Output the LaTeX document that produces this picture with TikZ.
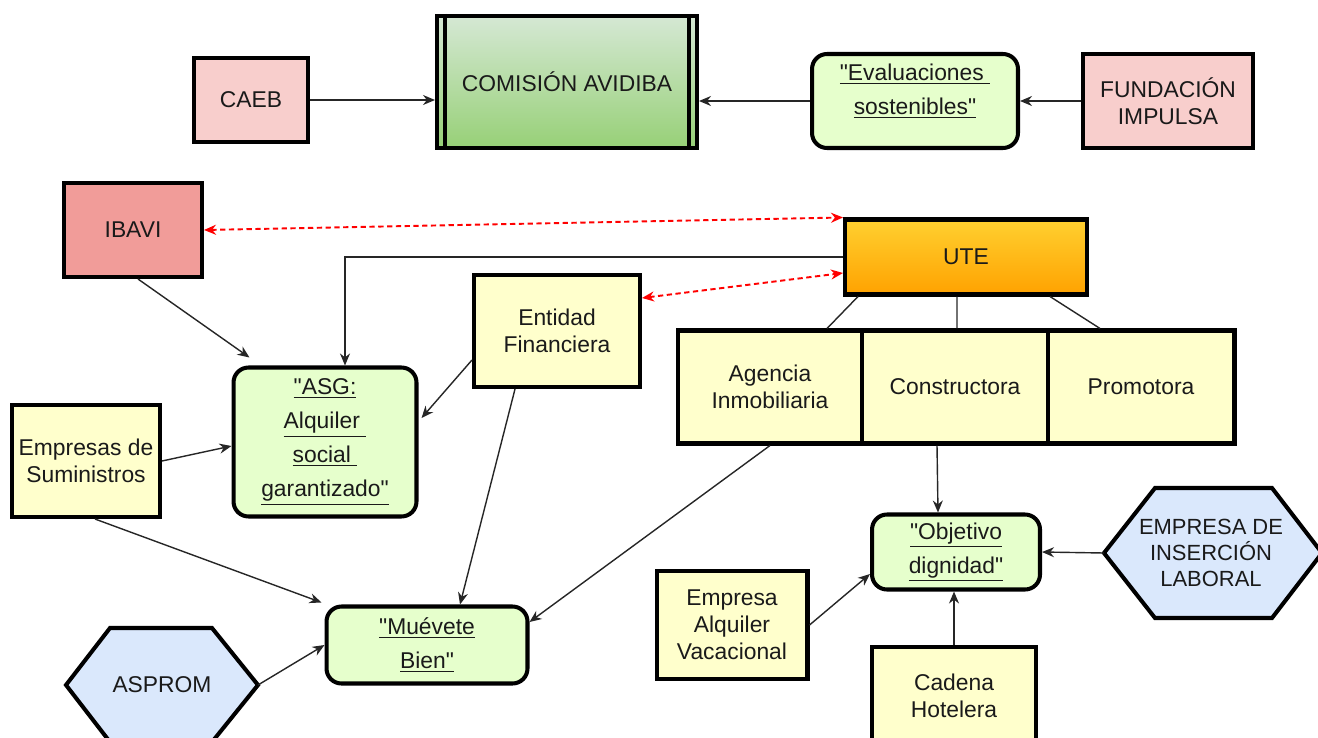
\documentclass[tikz,border=0pt]{standalone}
\usepackage{fontspec}
\setmainfont{Liberation Sans}[Ligatures=TeXOff]
\usetikzlibrary{arrows.meta}
\newcommand{\qq}{"}
\definecolor{pinkl}{HTML}{F8CECC}
\definecolor{pinkd}{HTML}{F19C99}
\definecolor{greenl}{HTML}{E6FFCC}
\definecolor{greent}{HTML}{D5E8D4}
\definecolor{greenb}{HTML}{97D077}
\definecolor{yell}{HTML}{FFFFCC}
\definecolor{oranget}{HTML}{FFD030}
\definecolor{orangeb}{HTML}{FFA200}
\definecolor{bluel}{HTML}{DAE8FC}
\definecolor{txt}{HTML}{1A1A1A}
\begin{document}
\begin{tikzpicture}[x=0.02cm,y=-0.02cm,
  font=\fontsize{13}{15.3}\selectfont,
  box/.style={draw=black, line width=2.3pt, text=txt, align=center, inner sep=2pt},
  sq/.style={box, rectangle},
  rbox/.style={box, rounded corners=0.3cm, fill=greenl, font=\fontsize{13}{19.3}\selectfont},
  hexa/.style={draw=black, line width=2.3pt, fill=bluel, line join=miter},
  txtn/.style={text=txt, align=center, inner sep=0pt},
  arr/.style={-{Stealth[length=2.4mm,width=2mm]}, line width=0.8pt, draw=black!85},
  ln/.style={line width=0.8pt, draw=black!85},
  rd/.style={{Stealth[length=2.4mm,width=2mm]}-{Stealth[length=2.4mm,width=2mm]}, draw=red, line width=1.1pt, dash pattern=on 3pt off 2pt}
]
\useasboundingbox (0,0) rectangle (1318,737);

% top row
\node[sq, fill=pinkl, minimum width=2.28cm, minimum height=1.68cm] (caeb) at (251,100) {CAEB};
\node[sq, top color=greent, bottom color=greenb, minimum width=5.2cm, minimum height=2.64cm] (com) at (567,82) {COMISIÓN AVIDIBA};
\draw[line width=2.3pt] ([xshift=0.2cm]com.north west) -- ([xshift=0.2cm]com.south west);
\draw[line width=2.3pt] ([xshift=-0.2cm]com.north east) -- ([xshift=-0.2cm]com.south east);
\node[rbox, minimum width=4.12cm, minimum height=1.88cm] (eval) at (915,101) {};
\node[txtn, font=\fontsize{13}{19.3}\selectfont] (evaltxt) at (915,91) {\underline{\qq Evaluaciones }\\\underline{sostenibles\qq}};
\node[sq, fill=pinkl, minimum width=3.4cm, minimum height=1.88cm] (fund) at (1168,101) {FUNDACIÓN\\IMPULSA};

\draw[arr] (caeb.east) -- (caeb.east -| com.west);
\draw[arr] (eval.west) -- (eval.west -| com.east);
\draw[arr] (fund.west) -- (eval.east);

% middle
\node[sq, fill=pinkd, minimum width=2.76cm, minimum height=1.88cm] (ibavi) at (133,230) {IBAVI};
\node[sq, top color=oranget, bottom color=orangeb, minimum width=4.84cm, minimum height=1.5cm] (ute) at (966,257) {UTE};
\node[sq, fill=yell, minimum width=3.32cm, minimum height=2.24cm] (ent) at (557,331) {Entidad\\Financiera};
\node[rbox, minimum width=3.66cm, minimum height=2.98cm] (asg) at (325,442) {\underline{\qq ASG:}\\\underline{Alquiler }\\\underline{social }\\\underline{garantizado\qq}};
\node[sq, fill=yell, minimum width=2.96cm, minimum height=2.24cm] (sum) at (86,461) {Empresas de\\Suministros};
\node[rbox, minimum width=4.02cm, minimum height=1.54cm] (mue) at (427,645) {\underline{\qq Muévete}\\\underline{Bien\qq}};

\draw[hexa] (66,685) -- (110,628) -- (212,628) -- (258,685) -- (212,742) -- (110,742) -- cycle;
\node[txtn] (asprom) at (162,685) {ASPROM};
\coordinate (asR) at (258,685);

\node[sq, fill=yell, minimum width=3.68cm, minimum height=2.26cm] (agen) at (770,387) {Agencia\\Inmobiliaria};
\node[sq, fill=yell, minimum width=3.72cm, minimum height=2.26cm] (cons) at (955,387) {Constructora};
\node[sq, fill=yell, minimum width=3.74cm, minimum height=2.26cm] (prom) at (1141,387) {Promotora};

\node[rbox, minimum width=3.36cm, minimum height=1.5cm] (obj) at (956,552) {\underline{\qq Objetivo}\\\underline{dignidad\qq}};
\draw[hexa] (1104,553) -- (1155,488) -- (1272,488) -- (1322,553) -- (1272,618) -- (1155,618) -- cycle;
\node[txtn, font=\fontsize{12.5}{15}\selectfont] (eil) at (1211,553) {EMPRESA DE\\INSERCIÓN\\LABORAL};
\coordinate (eilL) at (1104,553);
\node[sq, fill=yell, minimum width=3.02cm, minimum height=2.16cm] (vac) at (732,625) {Empresa\\Alquiler\\Vacacional};
\node[sq, fill=yell, minimum width=3.28cm, minimum height=1.96cm] (cad) at (954,696) {Cadena\\Hotelera};

% connectors
\draw[rd] (ibavi.east) -- (ute.north west);
\draw[rd] ([yshift=-0.5cm]ent.north east) -- ([yshift=-0.32cm]ute.west);
\draw[arr] (ute.west) -| ([xshift=0.4cm]asg.north);
\draw[arr] ([xshift=0.1cm]ibavi.south) -- ([xshift=0.36cm,yshift=0.16cm]asg.north west);
\draw[arr] ([yshift=-0.58cm]ent.west) -- ([xshift=0.06cm,yshift=0.48cm]asg.east);
\draw[arr] ([xshift=-0.84cm]ent.south) -- ([xshift=0.66cm]mue.north);
\draw[arr] (sum.east) -- ([yshift=-0.08cm]asg.west);
\draw[arr] ([xshift=0.18cm]sum.south) -- ([xshift=-0.06cm,yshift=0.04cm]mue.north west);
\draw[arr] (asR) -- (mue.west);
\draw[arr] (agen.south) -- ([yshift=0.46cm]mue.east);

\draw[ln] ([xshift=-2.16cm]ute.south) -- ([xshift=1.14cm]agen.north);
\draw[ln] ([xshift=-0.18cm]ute.south) -- ([xshift=0.04cm]cons.north);
\draw[ln] ([xshift=1.68cm]ute.south) -- ([xshift=-0.82cm]prom.north);

\draw[arr] ([xshift=-0.36cm]cons.south) -- ([xshift=-0.36cm]obj.north);
\draw[arr] (vac.east) -- ([yshift=-0.44cm]obj.west);
\draw[arr] (cad.north) -- (cad.north |- obj.south);
\draw[arr] (eilL) -- (obj.east);
\end{tikzpicture}
\end{document}
